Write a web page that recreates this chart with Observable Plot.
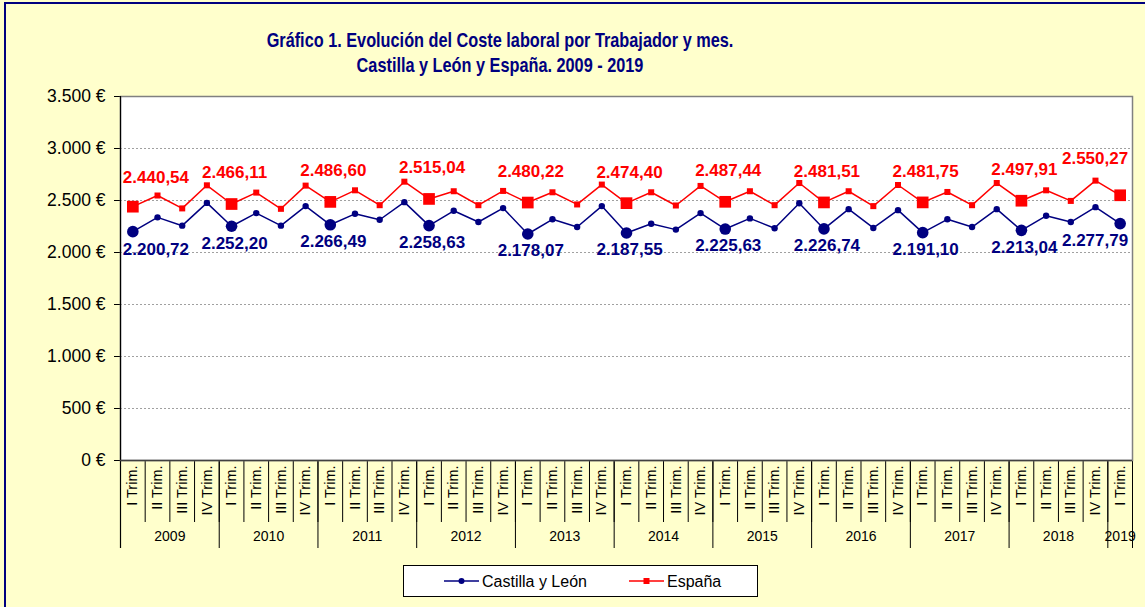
<!DOCTYPE html>
<html><head><meta charset="utf-8">
<script src="https://cdn.jsdelivr.net/npm/d3@7"></script>
<script src="https://cdn.jsdelivr.net/npm/@observablehq/plot@0.6"></script>
<style>
html,body{margin:0;padding:0;background:#FFFFCC;}
#wrap{position:relative;width:1145px;height:607px;overflow:hidden;background:#FFFFCC;font-family:"Liberation Sans",Arial,sans-serif;}
#border{position:absolute;left:4px;top:2px;right:-10px;bottom:-10px;border-left:2px solid #000080;border-top:2px solid #000080;}
#title{position:absolute;left:0;top:27px;width:1000px;text-align:center;font-weight:bold;font-size:21px;line-height:25px;color:#000080;transform:scaleX(0.775);transform-origin:500px 0;white-space:nowrap;}
#chart{position:absolute;left:0;top:0;}
#legend{position:absolute;left:403px;top:565px;width:353px;height:30px;background:#fff;border:1px solid #000;}
#legend svg{position:absolute;left:0;top:0;}
</style></head>
<body>
<div id="wrap">
  <div id="border"></div>
  <div id="chart"></div>
  <div id="title">Gráfico 1. Evolución del Coste laboral por Trabajador y mes.<br>Castilla y León y España. 2009 - 2019</div>
  <div id="legend"></div>
</div>
<script>
const years = [2009, 2010, 2011, 2012, 2013, 2014, 2015, 2016, 2017, 2018, 2019];
const quarterNames = ["I Trim.", "II Trim.", "III Trim.", "IV Trim."];
const yTicks = [0, 500, 1000, 1500, 2000, 2500, 3000, 3500];
const yTickLabels = ["0 €", "500 €", "1.000 €", "1.500 €", "2.000 €", "2.500 €", "3.000 €", "3.500 €"];
const seriesNames = ["Castilla y León", "España"];
const castillaLeon = [2200.72, 2338, 2258, 2477, 2252.20, 2379, 2258, 2446, 2266.49, 2372, 2315, 2484,
  2258.63, 2401, 2293, 2427, 2178.07, 2319, 2245, 2446, 2187.55, 2277, 2220, 2379,
  2225.63, 2328, 2233, 2474, 2226.74, 2417, 2236, 2407, 2191.10, 2319, 2245, 2417,
  2213.04, 2353, 2293, 2436, 2277.79];
const espana = [2440.54, 2548, 2424, 2646, 2466.11, 2576, 2420, 2643, 2486.60, 2598, 2455, 2681,
  2515.04, 2589, 2455, 2592, 2480.22, 2579, 2462, 2653, 2474.40, 2579, 2452, 2640,
  2487.44, 2589, 2455, 2668, 2481.51, 2589, 2446, 2649, 2481.75, 2582, 2455, 2668,
  2497.91, 2598, 2496, 2691, 2550.27];

const NAVY = "#000080", RED = "#FF0000";
const FONT = '"Liberation Sans", Arial, sans-serif';

const periods = years.flatMap(y => (y === 2019 ? quarterNames.slice(0, 1) : quarterNames).map(q => ({year: y, q})));
const data = periods.map((p, i) => ({i, year: p.year, q: p.q, cyl: castillaLeon[i], esp: espana[i], first: p.q === quarterNames[0]}));
const firsts = data.filter(d => d.first);
const others = data.filter(d => !d.first);
const midFirsts = firsts.slice(1, -1);
const firstOne = [firsts[0]];
const lastOne = [firsts[firsts.length - 1]];

const yearInfo = years.map(y => {
  const ids = data.filter(d => d.year === y).map(d => d.i);
  return {year: y, start: d3.min(ids) - 0.5, end: d3.max(ids) + 0.5, center: (d3.min(ids) + d3.max(ids)) / 2};
});
const yearBounds = Array.from(new Set(yearInfo.flatMap(d => [d.start, d.end])));
const quarterBounds = d3.range(data.length + 1).map(k => k - 0.5);

const fmt = d3.formatLocale({decimal: ",", thousands: ".", grouping: [3], currency: ["", "€"]}).format(",.2f");

const labelStyle = {fontWeight: "bold", fontSize: 17, fontFamily: FONT};

const chart = Plot.plot({
  width: 1145, height: 607,
  marginLeft: 120, marginRight: 13, marginTop: 96, marginBottom: 147,
  style: {background: "transparent", fontFamily: FONT, fontSize: "17.5px", color: "#000", overflow: "visible"},
  x: {domain: [-0.5, data.length - 0.5], axis: null},
  y: {domain: [0, 3500], ticks: yTicks, tickFormat: d => yTickLabels[yTicks.indexOf(d)], tickSize: 6, tickPadding: 9, label: null},
  marks: [
    Plot.ruleX(quarterBounds, {stroke: "#000", strokeWidth: 1, insetBottom: -62}),
    Plot.ruleX(yearBounds, {stroke: "#000", strokeWidth: 1, insetBottom: -88}),
    Plot.frame({fill: "#fff", stroke: "#808080", strokeWidth: 1.5}),
    Plot.ruleY(yTicks.filter(v => v > 0 && v < 3500), {stroke: "#a0a0a0", strokeDasharray: "2,2"}),
    Plot.ruleX(yearBounds.slice(0, 1), {stroke: "#000", strokeWidth: 1.2, insetBottom: -88}),
    Plot.ruleY([0], {stroke: "#404040", strokeWidth: 1.5}),
    // España
    Plot.line(data, {x: "i", y: "esp", stroke: RED, strokeWidth: 1.5}),
    Plot.dot(others, {x: "i", y: "esp", symbol: "square", r: 3.4, fill: RED}),
    Plot.dot(firsts, {x: "i", y: "esp", symbol: "square", r: 6.6, fill: RED}),
    // Castilla y León
    Plot.line(data, {x: "i", y: "cyl", stroke: NAVY, strokeWidth: 1.5}),
    Plot.dot(others, {x: "i", y: "cyl", r: 3.2, fill: NAVY}),
    Plot.dot(firsts, {x: "i", y: "cyl", r: 5.8, fill: NAVY}),
    // value labels
    Plot.text(midFirsts, {x: "i", y: "esp", text: d => fmt(d.esp), dy: -31, dx: 3, fill: RED, ...labelStyle}),
    Plot.text(firstOne, {x: "i", y: "esp", text: d => fmt(d.esp), dy: -29, dx: -10, textAnchor: "start", fill: RED, ...labelStyle}),
    Plot.text(lastOne, {x: "i", y: "esp", text: d => fmt(d.esp), dy: -37, dx: 8, textAnchor: "end", fill: RED, ...labelStyle}),
    Plot.text(midFirsts, {x: "i", y: "cyl", text: d => fmt(d.cyl), dy: 17, dx: 3, fill: NAVY, ...labelStyle}),
    Plot.text(firstOne, {x: "i", y: "cyl", text: d => fmt(d.cyl), dy: 18, dx: -10, textAnchor: "start", fill: NAVY, ...labelStyle}),
    Plot.text(lastOne, {x: "i", y: "cyl", text: d => fmt(d.cyl), dy: 17, dx: 8, textAnchor: "end", fill: NAVY, ...labelStyle}),
    // category axis
    Plot.text(data, {x: "i", text: "q", frameAnchor: "bottom", rotate: -90, textAnchor: "end", lineAnchor: "middle", dy: 5, fontSize: 14.5, fill: "#000", fontFamily: FONT}),
    Plot.text(yearInfo, {x: "center", text: d => String(d.year), frameAnchor: "bottom", dy: 80, fontSize: 14, fill: "#000", fontFamily: FONT})
  ]
});
document.getElementById("chart").appendChild(chart);

// legend
const lg = d3.select("#legend").append("svg").attr("width", 353).attr("height", 30)
  .style("font-family", FONT).style("font-size", "16px");
const items = [
  {name: seriesNames[0], color: NAVY, shape: "circle", x: 40},
  {name: seriesNames[1], color: RED, shape: "square", x: 225}
];
items.forEach(it => {
  const g = lg.append("g").attr("transform", `translate(${it.x},15)`);
  g.append("line").attr("x1", 0).attr("x2", 35).attr("stroke", it.color).attr("stroke-width", 1.5);
  if (it.shape === "circle") g.append("circle").attr("cx", 17.5).attr("r", 3).attr("fill", it.color);
  else g.append("rect").attr("x", 14.5).attr("y", -3).attr("width", 6).attr("height", 6).attr("fill", it.color);
  g.append("text").attr("x", 38).attr("dy", "0.35em").attr("fill", "#000").text(it.name);
});
</script>
</body></html>
